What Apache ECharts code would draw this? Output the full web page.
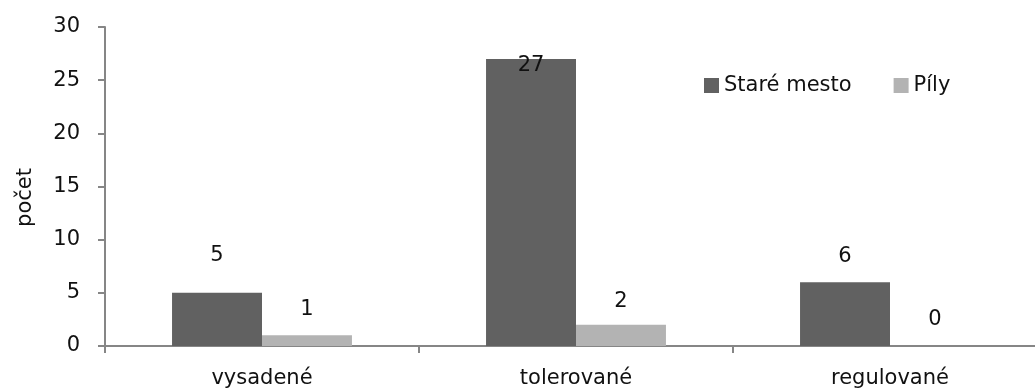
<!DOCTYPE html>
<html>
<head>
<meta charset="utf-8">
<script src="https://cdn.jsdelivr.net/npm/echarts@6/dist/echarts.min.js"></script>
<style>
  html, body { margin: 0; padding: 0; background: #ffffff; overflow: hidden; }
  #chart { width: 1035px; height: 391px; }
</style>
</head>
<body>
<div id="chart"></div>
<script>
// Categories and counts per locality
const categories = ['vysadené', 'tolerované', 'regulované'];
const seriesNames = ['Staré mesto', 'Píly'];
const stareMesto = [5, 27, 6];
const pily = [1, 2, 0];
const yTicks = [0, 5, 10, 15, 20, 25, 30];

// Label gap above each bar (px), per series
const labelGapStare = [27, -17, 15];
const labelGapPily = [15, 13, 16];

const FONT = 'DejaVu Sans';
const FS = 21;
const TEXT = '#111111';
const AXIS = '#868686';

function withLabels(values, gaps) {
  return values.map((v, i) => ({
    value: v,
    label: { distance: gaps[i] }
  }));
}

const chart = echarts.init(document.getElementById('chart'), null, { renderer: 'canvas' });

chart.setOption({
  animation: false,
  backgroundColor: '#ffffff',
  textStyle: { fontFamily: FONT },
  legend: {
    data: seriesNames,
    left: 699,
    top: 70,
    itemWidth: 15,
    itemHeight: 15,
    itemGap: 42,
    icon: 'rect',
    textStyle: { fontFamily: FONT, fontSize: FS, color: TEXT }
  },
  grid: {
    left: 105,
    width: 942,
    top: 27,
    bottom: 45,
    containLabel: false,
    outerBoundsMode: 'none'
  },
  xAxis: {
    type: 'category',
    data: categories,
    boundaryGap: true,
    axisLine: { lineStyle: { color: AXIS, width: 2 } },
    axisTick: { show: true, length: 7, lineStyle: { color: AXIS, width: 2 } },
    axisLabel: { fontFamily: FONT, fontSize: FS, color: TEXT, margin: 22 },
    splitLine: { show: false }
  },
  yAxis: {
    type: 'value',
    min: yTicks[0],
    max: yTicks[yTicks.length - 1],
    interval: 5,
    name: 'počet',
    nameLocation: 'middle',
    nameGap: 69,
    nameRotate: 90,
    nameTextStyle: { fontFamily: FONT, fontSize: FS, color: TEXT, padding: [0, 22, 0, 0] },
    axisLine: { show: true, lineStyle: { color: AXIS, width: 2 } },
    axisTick: { show: true, length: 7, lineStyle: { color: AXIS, width: 2 } },
    axisLabel: { fontFamily: FONT, fontSize: FS, color: TEXT, margin: 25 },
    splitLine: { show: false }
  },
  series: [
    {
      name: seriesNames[0],
      type: 'bar',
      data: withLabels(stareMesto, labelGapStare),
      barGap: '0%',
      barCategoryGap: '42.7%',
      itemStyle: { color: '#616161' },
      label: { show: true, position: 'top', fontFamily: FONT, fontSize: FS, color: TEXT }
    },
    {
      name: seriesNames[1],
      type: 'bar',
      data: withLabels(pily, labelGapPily),
      barGap: '0%',
      barCategoryGap: '42.7%',
      itemStyle: { color: '#b3b3b3' },
      label: { show: true, position: 'top', fontFamily: FONT, fontSize: FS, color: TEXT }
    }
  ]
});
</script>
</body>
</html>
